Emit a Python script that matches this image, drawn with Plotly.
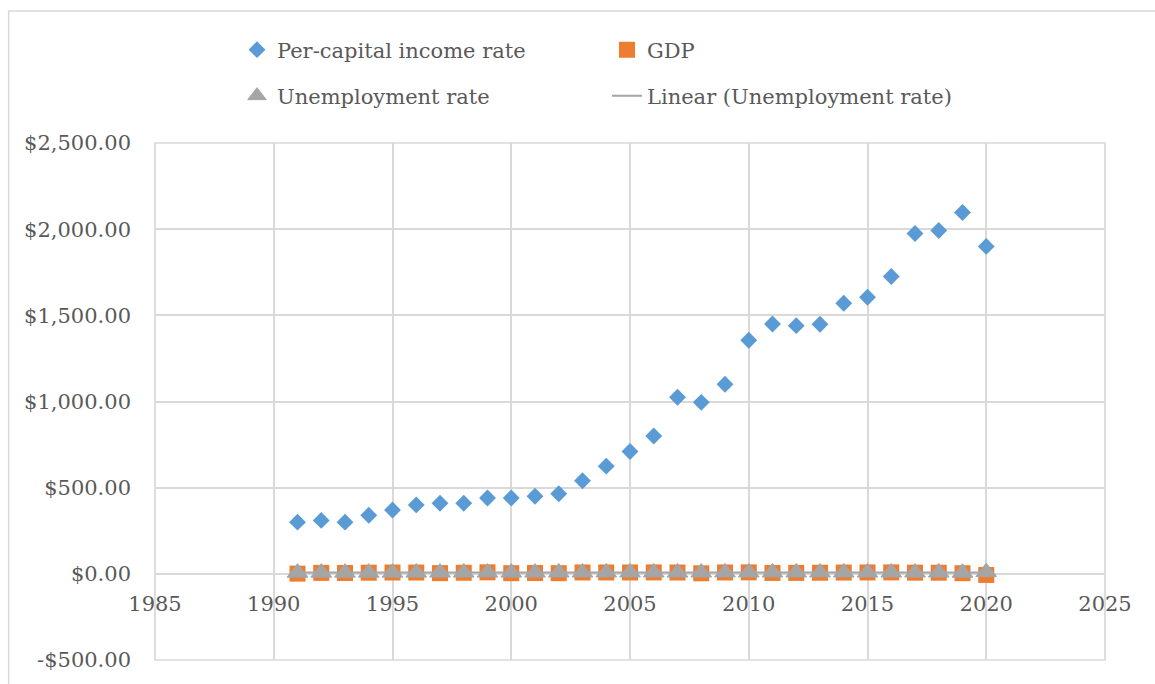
import numpy as np
import plotly.graph_objects as go

# Annual series, 1991-2020
years = list(range(1991, 2021))
per_capita_income = [300, 310, 300, 340, 370, 400, 410, 410, 440, 440,
                     450, 465, 540, 625, 710, 800, 1025, 995, 1100, 1355,
                     1450, 1440, 1448, 1570, 1605, 1725, 1975, 1992, 2097, 1900]
gdp = [1.1, 5.5, 4.8, 6.7, 7.6, 7.5, 4.0, 6.2, 8.8, 3.8,
       4.8, 3.8, 7.9, 7.9, 7.9, 8.1, 7.7, 3.1, 7.9, 8.5,
       5.2, 5.5, 6.4, 7.4, 8.0, 8.3, 6.8, 6.5, 3.7, -6.6]
unemployment = [6.8, 6.9, 6.9, 6.9, 7.0, 7.1, 7.2, 7.3, 7.4, 7.6,
                7.7, 7.8, 7.9, 8.0, 8.1, 8.1, 7.6, 7.7, 8.0, 8.3,
                8.2, 8.1, 8.0, 7.9, 7.9, 7.8, 7.7, 7.7, 6.5, 10.2]

x_ticks = [1985, 1990, 1995, 2000, 2005, 2010, 2015, 2020, 2025]
y_ticks = [-500, 0, 500, 1000, 1500, 2000, 2500]
y_tick_labels = ["-$500.00", "$0.00", "$500.00", "$1,000.00",
                 "$1,500.00", "$2,000.00", "$2,500.00"]

# Least-squares linear trend of the unemployment rate
slope, intercept = np.polyfit(years, unemployment, 1)
trend = [slope * yr + intercept for yr in years]

FONT = "DejaVu Serif"
TXT = "#595959"
GRID = "#D9D9D9"
GW = 1.7

fig = go.Figure()
fig.add_trace(go.Scatter(
    x=years, y=per_capita_income, mode="markers", name="Per-capital income rate",
    marker=dict(symbol="diamond", size=13, color="#5B9BD5"),
    legend="legend", legendrank=1))
fig.add_trace(go.Scatter(
    x=years, y=gdp, mode="markers", name="GDP",
    marker=dict(symbol="square", size=16, color="#ED7D31"),
    legend="legend", legendrank=2))
fig.add_trace(go.Scatter(
    x=years, y=trend, mode="lines", name="Linear (Unemployment rate)",
    line=dict(color="#A5A5A5", width=2),
    legend="legend2", legendrank=4))
fig.add_trace(go.Scatter(
    x=years, y=unemployment, mode="markers", name="Unemployment rate",
    marker=dict(symbol="triangle-up", size=18, color="#A5A5A5",
                line=dict(color="#A5A5A5", width=1)),
    legend="legend2", legendrank=3))

W, H = 1155, 684
L, R, T, B = 154.5, 49.5, 143, 24
pw, ph = W - L - R, H - T - B

legend_common = dict(
    orientation="h", xref="container", yref="container",
    xanchor="left", yanchor="middle", entrywidth=325, entrywidthmode="pixels",
    font=dict(family=FONT, size=21, color=TXT), bgcolor="rgba(0,0,0,0)",
    traceorder="normal")

fig.update_layout(
    width=W, height=H,
    margin=dict(l=L, r=R, t=T, b=B, autoexpand=False),
    paper_bgcolor="white", plot_bgcolor="white",
    font=dict(family=FONT, size=21, color=TXT),
    showlegend=True,
    legend=dict(x=237 / W, y=1 - 50 / H, **legend_common),
    legend2=dict(x=237 / W, y=1 - 96 / H, **legend_common),
    xaxis=dict(
        range=[1985, 2025], tickmode="array", tickvals=x_ticks,
        showgrid=True, gridcolor=GRID, gridwidth=GW,
        zeroline=False, showline=False, ticks="",
        anchor="free", position=(0 - (-500)) / 3000,
        ticklabelstandoff=15,
        tickfont=dict(family=FONT, size=21, color=TXT)),
    yaxis=dict(
        range=[-500, 2500], tickmode="array", tickvals=y_ticks,
        ticktext=y_tick_labels,
        showgrid=True, gridcolor=GRID, gridwidth=GW,
        zeroline=True, zerolinecolor=GRID, zerolinewidth=GW,
        showline=False, ticks="", ticklabelstandoff=23,
        tickfont=dict(family=FONT, size=21, color=TXT)),
)

# Outline of the plotting area (grid lines at the range ends)
fig.add_shape(
    type="rect", xref="x domain", yref="y domain", x0=0, x1=1, y0=0, y1=1,
    line=dict(color=GRID, width=GW), fillcolor="rgba(0,0,0,0)", layer="below")

# Chart frame around the whole drawing area
fig.add_shape(
    type="rect", xref="paper", yref="paper",
    x0=(8 - L) / pw, x1=(W + 10 - L) / pw,
    y0=1 - (H + 10 - T) / ph, y1=1 - (11 - T) / ph,
    line=dict(color=GRID, width=1.5), fillcolor="rgba(0,0,0,0)", layer="below")

fig.write_html("out.html")
